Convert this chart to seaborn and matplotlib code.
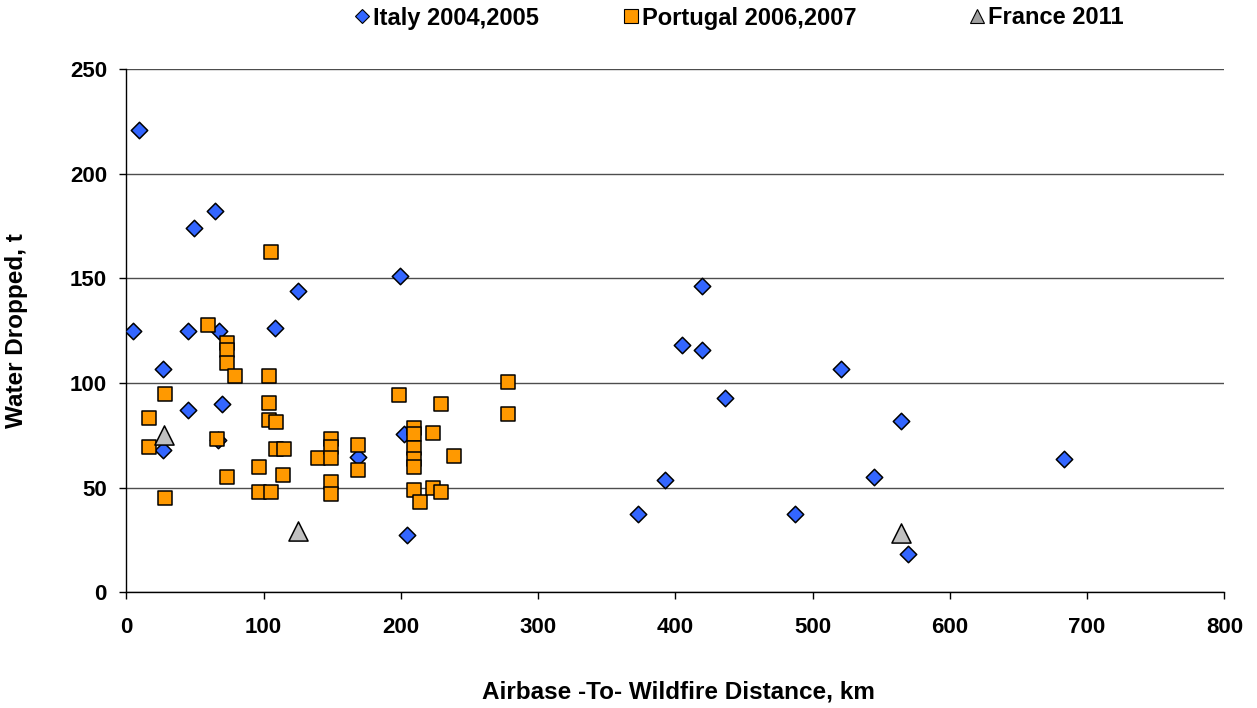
import matplotlib
matplotlib.use("Agg")
import matplotlib.pyplot as plt
import seaborn as sns
import pandas as pd
from matplotlib.lines import Line2D

sns.set_theme(style="white")
plt.rcParams['font.family'] = ['Liberation Sans', 'DejaVu Sans']
plt.rcParams['font.weight'] = 'bold'
plt.rcParams['text.color'] = 'black'
plt.rcParams['axes.labelcolor'] = 'black'
plt.rcParams['xtick.color'] = 'black'
plt.rcParams['ytick.color'] = 'black'

italy_x = [9.5, 5.1, 45.2, 67.8, 108.3, 27.0, 45.2, 69.9, 27.0, 66.8, 49.3, 64.6,
           125.3, 199.6, 202.0, 169.0, 204.4, 419.7, 404.7, 419.7, 520.5, 436.2,
           564.4, 392.5, 545.0, 373.0, 487.2, 569.8, 683.2]
italy_y = [220.9, 124.6, 124.6, 124.6, 126.2, 106.5, 87.2, 90.1, 68.0, 72.8, 173.9, 181.9,
           143.9, 151.1, 75.7, 64.5, 27.6, 146.3, 118.2, 115.5, 106.5, 92.9,
           81.8, 53.7, 55.3, 37.2, 37.2, 18.3, 63.7]

portugal_x = [59.7, 73.6, 73.6, 73.6, 79.2, 104.0, 28.2, 16.8, 104.0, 104.0, 109.1,
              66.3, 16.8, 109.1, 114.9, 139.9, 96.9, 73.6, 114.4, 96.9, 105.4, 28.2,
              105.2, 198.7, 229.1, 278.3, 278.3, 209.8, 209.8, 209.8, 209.8, 209.8,
              223.7, 238.8, 149.1, 149.1, 149.1, 149.1, 149.1, 168.6, 168.6, 209.8,
              214.0, 223.7, 229.1]
portugal_y = [127.8, 119.3, 115.5, 109.7, 103.3, 103.3, 94.9, 83.4, 90.5, 82.4, 81.3,
              73.3, 69.6, 68.5, 68.5, 64.1, 59.7, 54.9, 56.0, 47.9, 47.9, 44.9,
              162.3, 94.1, 89.7, 100.6, 85.0, 78.4, 75.7, 68.8, 63.7, 59.7,
              76.0, 65.0, 73.3, 69.6, 64.0, 52.5, 46.8, 70.4, 58.5, 48.7,
              43.3, 49.7, 47.9]

france_x = [27.7, 125.3, 564.4]
france_y = [74.9, 29.2, 28.4]

labels = ["Italy 2004,2005", "Portugal 2006,2007", "France 2011"]
colors = ["#3366FF", "#FF9900", "#C0C0C0"]
legend_colors = ["#3366FF", "#FF9900", "#A0A0A0"]

df_it = pd.DataFrame({"x": italy_x, "y": italy_y})
df_pt = pd.DataFrame({"x": portugal_x, "y": portugal_y})
df_fr = pd.DataFrame({"x": france_x, "y": france_y})

fig = plt.figure(figsize=(12.57, 7.08), dpi=100)
ax = fig.add_axes([0.1005, 0.1634, 0.8735, 0.7394])

sns.scatterplot(data=df_it, x="x", y="y", ax=ax, marker="D", s=70, color=colors[0],
                edgecolor="black", linewidth=1.1, zorder=3, legend=False)
sns.scatterplot(data=df_pt, x="x", y="y", ax=ax, marker="s", s=105, color=colors[1],
                edgecolor="black", linewidth=1.1, zorder=4, legend=False)
sns.scatterplot(data=df_fr, x="x", y="y", ax=ax, marker="^", s=190, color=colors[2],
                edgecolor="black", linewidth=1.1, zorder=5, legend=False)

ax.set_xlim(0, 800)
ax.set_ylim(0, 250)
ax.set_xticks(range(0, 801, 100))
ax.set_yticks(range(0, 251, 50))
ax.yaxis.grid(True, color="#4d4d4d", linewidth=1.0)
ax.xaxis.grid(False)
ax.set_axisbelow(True)
for side in ["top", "right"]:
    ax.spines[side].set_visible(False)
for side in ["left", "bottom"]:
    ax.spines[side].set_color("black")
    ax.spines[side].set_linewidth(1.0)
ax.tick_params(axis="both", which="major", direction="out", length=5, width=1,
               color="black", labelcolor="black", labelsize=16, bottom=True, left=True)
ax.tick_params(axis="x", pad=13)
ax.tick_params(axis="y", pad=9)
for lab in ax.get_xticklabels() + ax.get_yticklabels():
    lab.set_fontweight("bold")

ax.set_xlabel("Airbase -To- Wildfire Distance, km", fontsize=17.5, fontweight="bold",
              color="black")
ax.set_ylabel("Water Dropped, t", fontsize=17.5, fontweight="bold", color="black")
ax.xaxis.set_label_coords(0.503, -0.169)
ax.yaxis.set_label_coords(-0.0895, 0.499)

markers = ["D", "s", "^"]
msizes = [7, 9.5, 10]
anchors_x = [355, 624, 970]
for lab, mk, ms, c, x0 in zip(labels, markers, msizes, legend_colors, anchors_x):
    h = Line2D([], [], marker=mk, linestyle="none", markersize=ms, markerfacecolor=c,
               markeredgecolor="black", markeredgewidth=0.8)
    fig.legend([h], [lab], loc="center left", bbox_to_anchor=(x0 / 1257, 1 - 18 / 708),
               frameon=False, prop={"size": 17, "weight": "bold"}, handletextpad=0.15,
               handlelength=0.6, borderpad=0, borderaxespad=0, labelcolor="black")

fig.savefig("out.png", dpi=100)
